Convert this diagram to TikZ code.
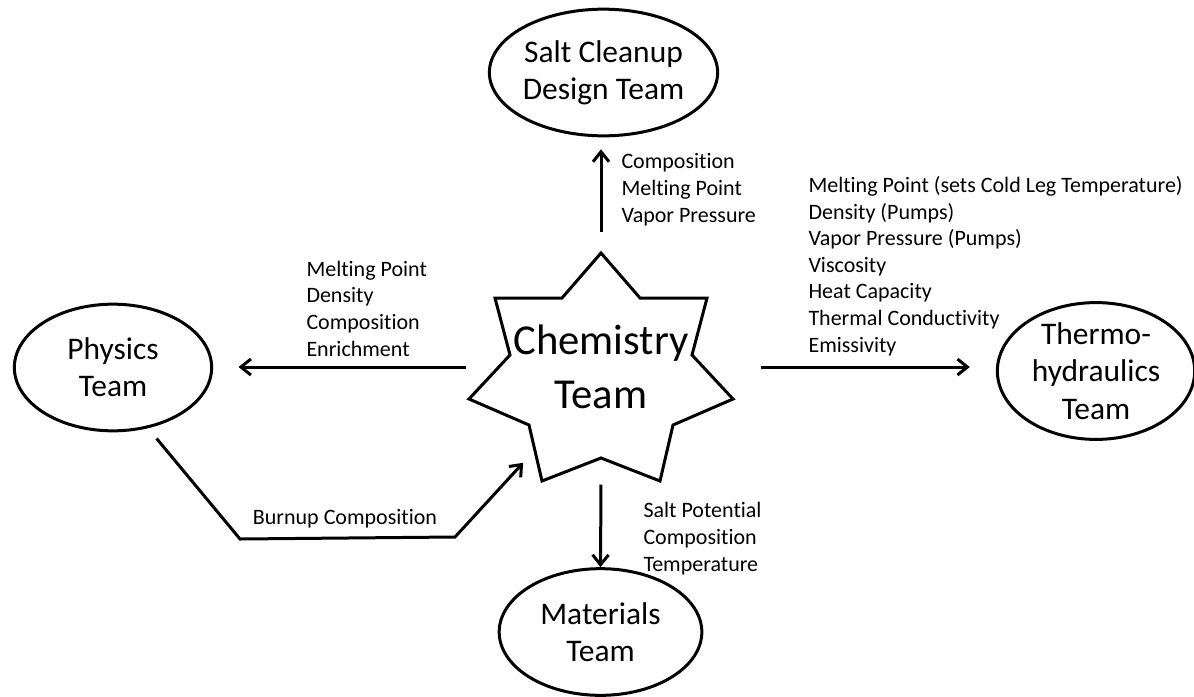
\documentclass[tikz,border=0pt]{standalone}
\usepackage{fontspec}
\setmainfont{Carlito}[Ligatures=NoCommon]
\usetikzlibrary{arrows.meta,shapes.geometric}

\begin{document}
\begin{tikzpicture}[x=0.75pt, y=-0.75pt, line width=2.25pt,
  >={Straight Barb[length=7.5pt,width=12pt]},
  team/.style={draw, ellipse, align=center, inner sep=0pt, minimum width=148pt, minimum height=95pt, font=\fontsize{23.6}{28}\selectfont},
  props/.style={align=left, anchor=base west, inner sep=0pt, font=\fontsize{16.5}{19.9}\selectfont}]
  \useasboundingbox (0,0) rectangle (1194,696);
  % seven-pointed star
  \draw[shift={(601,367)}] (0,-114) -- (39,-69) -- (106,-69) -- (91,-12) -- (132,32) -- (72,58) -- (59,114)
    -- (0,91) -- (-59,114) -- (-72,58) -- (-132,32) -- (-91,-12) -- (-106,-69) -- (-39,-69) -- cycle;
  \node[minimum width=198pt, minimum height=171pt, inner sep=0pt, align=center, font=\fontsize{32}{40}\selectfont] (chem) at (601,367) {Chemistry\\Team};
  \node[team] (salt) at (603.5,72.5) {Salt Cleanup\\Design Team};
  \node[team] (phys) at (113,367.5) {Physics\\Team};
  \node[team] (thermo) at (1096,371) {Thermo-\\hydraulics\\Team};
  \node[team, minimum width=152pt] (mat) at (600.5,632) {Materials\\Team};
  % connectors
  \draw[->, shorten <=15pt, shorten >=9pt] (chem.north) -- (chem.north |- salt.south);
  \draw[->, shorten <=1.5pt, shorten >=19pt] (chem.west) -- (chem.west -| phys.east);
  \draw[->, shorten <=19.5pt, shorten >=19.5pt] (chem.east) -- (chem.east -| thermo.west);
  \draw[->, shorten <=1.5pt] (chem.south) -- (mat.north);
  \coordinate (bend1) at (240,539);
  \coordinate (bend2) at (455,537);
  \coordinate (burnin) at (534,451);
  \draw[->, shorten <=10pt, shorten >=12pt] (phys.-60) -- (bend1) -- (bend2) -- (burnin);
  % property lists (anchored at the last line)
  \node[props] (saltprops) at (620,222) {Composition\\Melting Point\\Vapor Pressure};
  \node[props] (physprops) at (305,356) {Melting Point\\Density\\Composition\\Enrichment};
  \node[props] (thermoprops) at (807,352) {Melting Point (sets Cold Leg Temperature)\\Density (Pumps)\\Vapor Pressure (Pumps)\\Viscosity\\Heat Capacity\\Thermal Conductivity\\Emissivity};
  \node[props] (matprops) at (642,571) {Salt Potential\\Composition\\Temperature};
  \node[props, anchor=base] (burnup) at (345,524) {Burnup Composition};
\end{tikzpicture}
\end{document}
